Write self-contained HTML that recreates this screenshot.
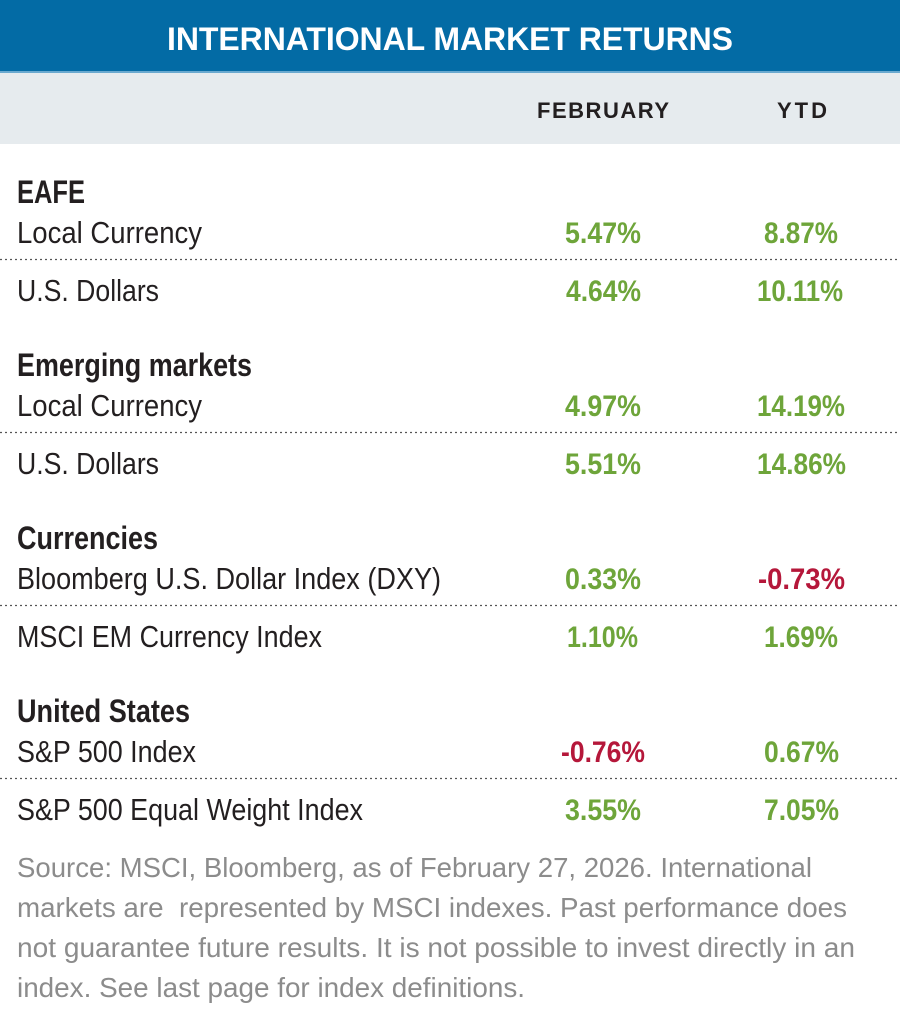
<!DOCTYPE html>
<html><head><meta charset="utf-8"><style>html,body{margin:0;padding:0;background:#fff}svg{display:block}</style></head><body>
<svg width="900" height="1021" viewBox="0 0 900 1021" xmlns="http://www.w3.org/2000/svg" font-family="Liberation Sans, sans-serif">
<rect x="0" y="0" width="900" height="72" fill="#036ba5"/>
<rect x="0" y="72" width="900" height="72" fill="#e6ebee"/>
<rect x="0" y="71" width="900" height="2" fill="#6aa9cf"/>
<text x="167" y="50" font-size="32" font-weight="bold" fill="#fff" textLength="566" lengthAdjust="spacing">INTERNATIONAL MARKET RETURNS</text>
<g font-size="22" font-weight="bold" fill="#231f20">
<text x="537" y="118" textLength="132" lengthAdjust="spacing">FEBRUARY</text>
<text x="777" y="118" textLength="50" lengthAdjust="spacing">YTD</text>
</g>
<g font-size="32" font-weight="bold" fill="#231f20">
<text x="17" y="203" textLength="68" lengthAdjust="spacingAndGlyphs">EAFE</text>
<text x="17" y="376" textLength="235" lengthAdjust="spacingAndGlyphs">Emerging markets</text>
<text x="17" y="549" textLength="141" lengthAdjust="spacingAndGlyphs">Currencies</text>
<text x="17" y="722" textLength="173" lengthAdjust="spacingAndGlyphs">United States</text>
</g>
<g font-size="31" fill="#231f20">
<text x="17" y="243" textLength="185" lengthAdjust="spacingAndGlyphs">Local Currency</text>
<text x="17" y="301" textLength="142" lengthAdjust="spacingAndGlyphs">U.S. Dollars</text>
<text x="17" y="416" textLength="185" lengthAdjust="spacingAndGlyphs">Local Currency</text>
<text x="17" y="474" textLength="142" lengthAdjust="spacingAndGlyphs">U.S. Dollars</text>
<text x="17" y="589" textLength="424" lengthAdjust="spacingAndGlyphs">Bloomberg U.S. Dollar Index (DXY)</text>
<text x="17" y="647" textLength="305" lengthAdjust="spacingAndGlyphs">MSCI EM Currency Index</text>
<text x="17" y="762" textLength="179" lengthAdjust="spacingAndGlyphs">S&amp;P 500 Index</text>
<text x="17" y="820" textLength="346" lengthAdjust="spacingAndGlyphs">S&amp;P 500 Equal Weight Index</text>
</g>
<g stroke="#555" stroke-width="1.2" stroke-dasharray="2,3">
<line x1="0" y1="259.5" x2="900" y2="259.5"/>
<line x1="0" y1="432.5" x2="900" y2="432.5"/>
<line x1="0" y1="605.5" x2="900" y2="605.5"/>
<line x1="0" y1="778.5" x2="900" y2="778.5"/>
</g>
<g font-size="30" font-weight="bold" fill="#6ea53a">
<text x="565" y="243" textLength="76" lengthAdjust="spacingAndGlyphs">5.47%</text>
<text x="764" y="243" textLength="74" lengthAdjust="spacingAndGlyphs">8.87%</text>
<text x="566" y="301" textLength="75" lengthAdjust="spacingAndGlyphs">4.64%</text>
<text x="757" y="301" textLength="86" lengthAdjust="spacingAndGlyphs">10.11%</text>
<text x="565" y="416" textLength="76" lengthAdjust="spacingAndGlyphs">4.97%</text>
<text x="757" y="416" textLength="88" lengthAdjust="spacingAndGlyphs">14.19%</text>
<text x="565" y="474" textLength="76" lengthAdjust="spacingAndGlyphs">5.51%</text>
<text x="757" y="474" textLength="89" lengthAdjust="spacingAndGlyphs">14.86%</text>
<text x="565" y="589" textLength="76" lengthAdjust="spacingAndGlyphs">0.33%</text>
<text x="758" y="589" textLength="87" lengthAdjust="spacingAndGlyphs" fill="#b5173a">-0.73%</text>
<text x="567" y="647" textLength="71" lengthAdjust="spacingAndGlyphs">1.10%</text>
<text x="764" y="647" textLength="74" lengthAdjust="spacingAndGlyphs">1.69%</text>
<text x="561" y="762" textLength="84" lengthAdjust="spacingAndGlyphs" fill="#b5173a">-0.76%</text>
<text x="764" y="762" textLength="75" lengthAdjust="spacingAndGlyphs">0.67%</text>
<text x="565" y="820" textLength="76" lengthAdjust="spacingAndGlyphs">3.55%</text>
<text x="764" y="820" textLength="75" lengthAdjust="spacingAndGlyphs">7.05%</text>
</g>
<g font-size="28" fill="#8c8c8c">
<text x="17" y="877" textLength="795" lengthAdjust="spacingAndGlyphs">Source: MSCI, Bloomberg, as of February 27, 2026. International</text>
<text x="17" y="917" textLength="830" lengthAdjust="spacingAndGlyphs" xml:space="preserve">markets are  represented by MSCI indexes. Past performance does</text>
<text x="17" y="957" textLength="838" lengthAdjust="spacingAndGlyphs">not guarantee future results. It is not possible to invest directly in an</text>
<text x="17" y="997" textLength="508" lengthAdjust="spacingAndGlyphs">index. See last page for index definitions.</text>
</g>
</svg>
</body></html>
